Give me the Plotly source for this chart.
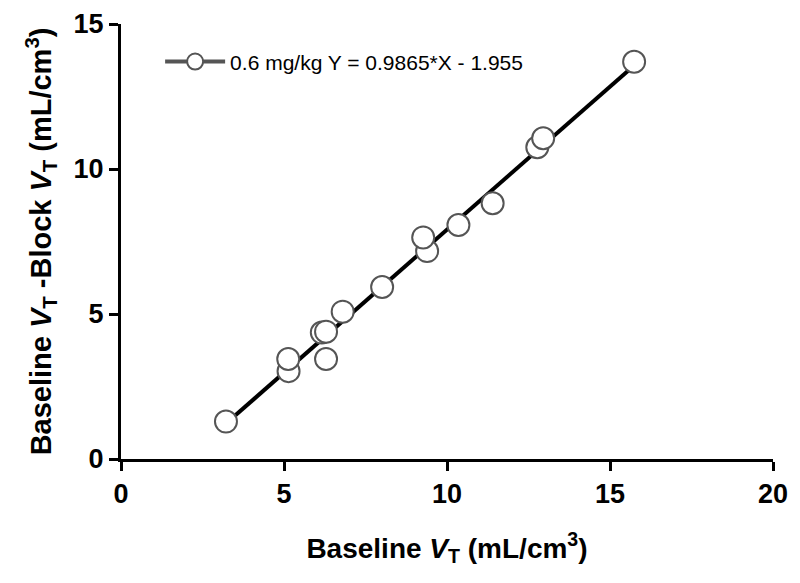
import plotly.graph_objects as go

# values
baseline_vt = [3.22, 5.14, 5.13, 6.29, 6.16, 6.29, 6.80, 8.01, 9.39, 9.27,
               10.35, 11.40, 12.77, 12.95, 15.74]
diff_vt = [1.29, 3.03, 3.45, 3.45, 4.36, 4.39, 5.08, 5.93, 7.17, 7.64,
           8.07, 8.82, 10.75, 11.06, 13.70]
slope = 0.9865
intercept = -1.955
fit_x = [min(baseline_vt), max(baseline_vt)]
fit_y = [slope * v + intercept for v in fit_x]
legend_label = "0.6 mg/kg Y = 0.9865*X - 1.955"

fig = go.Figure()
fig.add_trace(go.Scatter(x=fit_x, y=fit_y, mode="lines",
                         line=dict(color="black", width=4),
                         showlegend=False, hoverinfo="skip"))
fig.add_trace(go.Scatter(x=baseline_vt, y=diff_vt, mode="markers",
                         marker=dict(size=22, color="white",
                                     line=dict(color="#555555", width=2)),
                         showlegend=False))
# legend-only entry (line + open circle)
fig.add_trace(go.Scatter(x=[None], y=[None], mode="lines+markers",
                         name=legend_label,
                         line=dict(color="#555555", width=4),
                         marker=dict(size=20, color="white",
                                     line=dict(color="#555555", width=2))))

axis_font = dict(family="Liberation Sans, Arial", size=27, color="black",
                 weight="bold")
title_font = dict(family="Liberation Sans, Arial", size=28, color="black")
ytitle_font = dict(family="Liberation Sans, Arial", size=29, color="black")

# the page body adds an 8px offset, margins allow for it
fig.update_layout(
    width=800, height=583,
    margin=dict(l=113, r=35, t=16, b=132),
    plot_bgcolor="white", paper_bgcolor="white",
    font=dict(family="Liberation Sans, Arial"),
    legend=dict(x=0.06, y=0.96, xanchor="left", yanchor="top",
                itemwidth=60,
                bgcolor="rgba(0,0,0,0)",
                font=dict(family="Liberation Sans, Arial", size=21,
                          color="black")),
    xaxis=dict(range=[0, 20], tickvals=[0, 5, 10, 15, 20],
               showline=True, linecolor="black", linewidth=3,
               ticks="outside", ticklen=9, tickwidth=3, tickcolor="black",
               showgrid=False, zeroline=False, automargin=False,
               tickfont=axis_font,
               title=dict(text="<b>Baseline <i>V</i><sub>T</sub> (mL/cm<sup>3</sup>)</b>",
                          font=title_font, standoff=30)),
    yaxis=dict(range=[0, 15], tickvals=[0, 5, 10, 15],
               showline=True, linecolor="black", linewidth=3,
               ticks="outside", ticklen=9, tickwidth=3, tickcolor="black",
               showgrid=False, zeroline=False, automargin=False,
               tickfont=axis_font,
               title=dict(text="<b>Baseline <i>V</i><sub>T</sub> -Block <i>V</i><sub>T</sub> (mL/cm<sup>3</sup>)</b>",
                          font=ytitle_font, standoff=14)),
)

fig.write_html("out.html")
